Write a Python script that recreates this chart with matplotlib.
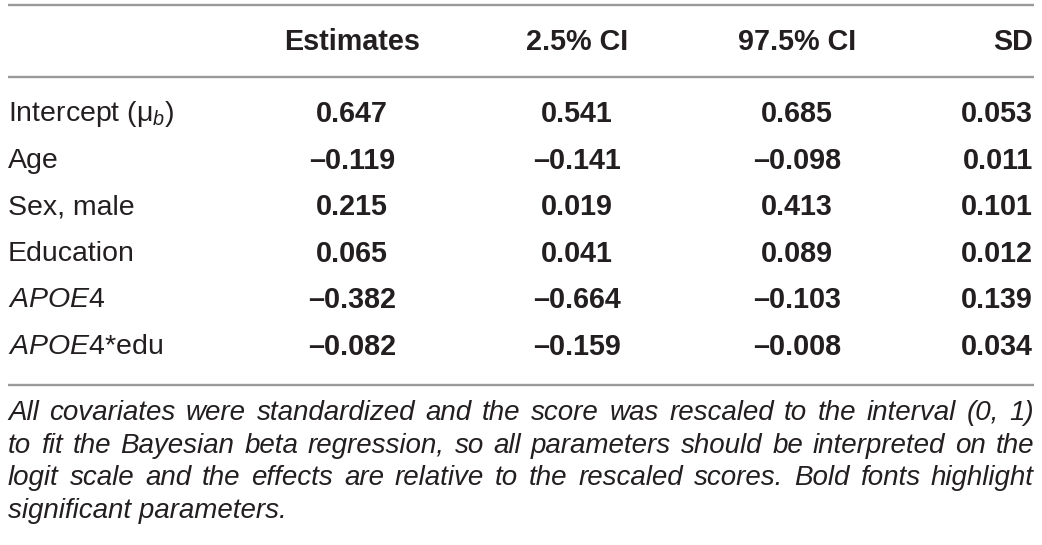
import matplotlib
matplotlib.use('Agg')
from matplotlib import pyplot as plt

plt.rcParams['font.family'] = ['Liberation Sans', 'DejaVu Sans']
plt.rcParams['mathtext.fontset'] = 'custom'
plt.rcParams['mathtext.rm'] = 'Liberation Sans'
plt.rcParams['mathtext.it'] = 'Liberation Sans:italic'
plt.rcParams['mathtext.bf'] = 'Liberation Sans:bold'

# table content
headers = ['Estimates', '2.5% CI', '97.5% CI', 'SD']
row_labels = ['Intercept (μ$_{b}$)', 'Age', 'Sex, male', 'Education',
              '$\\mathit{APOE}$4', '$\\mathit{APOE}$4*edu']
estimates = [0.647, -0.119, 0.215, 0.065, -0.382, -0.082]
ci_low = [0.541, -0.141, 0.019, 0.041, -0.664, -0.159]
ci_high = [0.685, -0.098, 0.413, 0.089, -0.103, -0.008]
sd = [0.053, 0.011, 0.101, 0.012, 0.139, 0.034]
footnote = ['All covariates were standardized and the score was rescaled to the interval (0, 1)',
            'to fit the Bayesian beta regression, so all parameters should be interpreted on the',
            'logit scale and the effects are relative to the rescaled scores. Bold fonts highlight',
            'significant parameters.']

W, H = 1042, 545
TXT = '#231f20'
RULE = '#9a9a9a'

fig = plt.figure(figsize=(W / 100, H / 100), dpi=100)
ax = fig.add_axes([0, 0, 1, 1])
ax.set_xlim(0, W)
ax.set_ylim(H, 0)
ax.axis('off')

x_left, x_right = 8, 1034
for y in [5, 77, 385]:
    ax.plot([x_left, x_right], [y, y], color=RULE, lw=1.7, solid_capstyle='butt')

# column placement: centre for first three, right for SD
col_x = [352, 577, 797, 1033]
col_ha = ['center', 'center', 'center', 'right']
fs = 20.7

header_y = 42
for h, cx, ha in zip(headers, col_x, col_ha):
    ax.text(cx, header_y, h, ha=ha, va='center', fontsize=fs, fontweight='bold', color=TXT)

def fmt(v):
    return f'{v:.3f}'.replace('-', '\u2013')

row_y0, row_dy = 114, 46.6
columns = [estimates, ci_low, ci_high, sd]
for i, lab in enumerate(row_labels):
    y = row_y0 + i * row_dy
    ax.text(x_left, y, lab, ha='left', va='center', fontsize=20.5, color=TXT)
    for vals, cx, ha in zip(columns, col_x, col_ha):
        ax.text(cx, y, fmt(vals[i]), ha=ha, va='center', fontsize=fs,
                fontweight='bold', color=TXT)

# justified italic footnote
renderer = fig.canvas.get_renderer()
fn_fs = 20
fn_y0, fn_dy = 413, 32.7
for k, line in enumerate(footnote):
    y = fn_y0 + k * fn_dy
    words = line.split(' ')
    if k == len(footnote) - 1:
        ax.text(x_left, y, line, ha='left', va='center', fontsize=fn_fs,
                style='italic', color=TXT)
        continue
    arts = [ax.text(0, y, w, ha='left', va='center', fontsize=fn_fs,
                    style='italic', color=TXT) for w in words]
    widths = [a.get_window_extent(renderer).width for a in arts]
    gap = (x_right - x_left - sum(widths)) / (len(words) - 1)
    x = x_left
    for a, wd in zip(arts, widths):
        a.set_x(x)
        x += wd + gap

fig.savefig('out.png', dpi=100, facecolor='white')
